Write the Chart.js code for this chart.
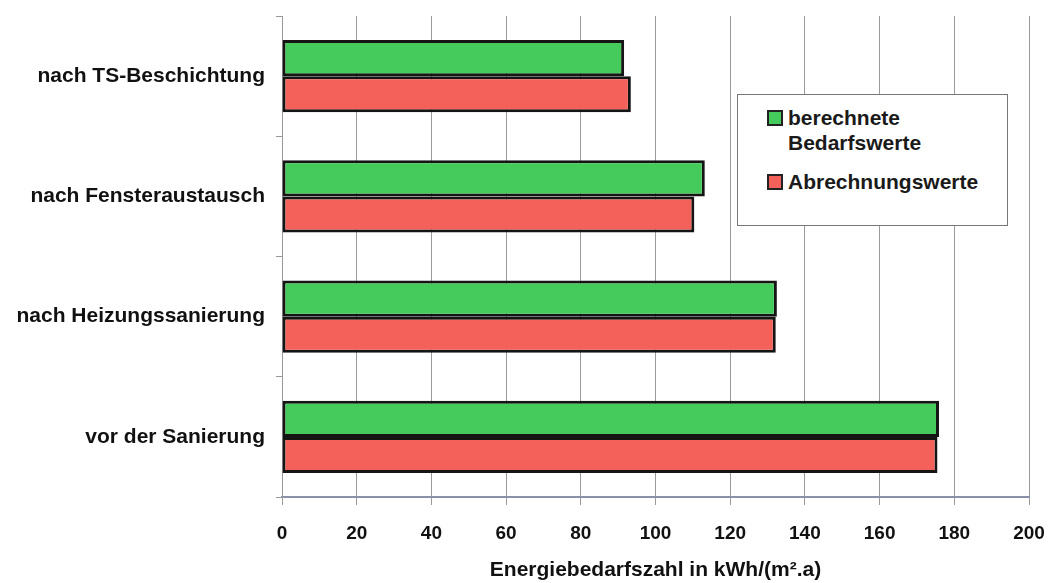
<!DOCTYPE html>
<html>
<head>
<meta charset="utf-8">
<script src="https://cdn.jsdelivr.net/npm/chart.js@4/dist/chart.umd.min.js"></script>
<style>
  html, body { margin: 0; padding: 0; background: #fff; }
  #wrap { position: relative; width: 1051px; height: 583px; }
  #legendBox {
    position: absolute; left: 737px; top: 94px; width: 269px; height: 130px;
    border: 1px solid #777; background: #fff;
    font-family: "Liberation Sans", Arial, sans-serif; font-weight: bold; font-size: 21px; color: #1a1a1a;
  }
  .item { position: absolute; left: 29px; line-height: 25px; }
  .swatch { position: absolute; left: 0; top: 5px; width: 12px; height: 12px; border: 2px solid #222; }
  .item span.txt { display: block; padding-left: 21px; }
</style>
</head>
<body>
<div id="wrap">
  <canvas id="chart" width="1051" height="583"></canvas>
  <div id="legendBox"></div>
</div>
<script>
const categories = ['nach TS-Beschichtung', 'nach Fensteraustausch', 'nach Heizungssanierung', 'vor der Sanierung'];
const berechnet = [91.6, 113.2, 132.5, 175.9];
const abrechnung = [93.4, 110.4, 132.2, 175.5];
const seriesNames = [['berechnete', 'Bedarfswerte'], ['Abrechnungswerte']];
const xTicks = [0, 20, 40, 60, 80, 100, 120, 140, 160, 180, 200];

const green = '#45cb5c';
const red = '#f4615a';
const font = "'Liberation Sans', Arial, sans-serif";

// legend as real text, placed like the boxed legend in the scan
const legendBox = document.getElementById('legendBox');
const legendTops = [10, 74];
[green, red].forEach((col, i) => {
  const item = document.createElement('div');
  item.className = 'item';
  item.style.top = legendTops[i] + 'px';
  item.innerHTML = `<div class="swatch" style="background:${col}"></div><span class="txt">${seriesNames[i].join('<br>')}</span>`;
  legendBox.appendChild(item);
});

new Chart(document.getElementById('chart'), {
  type: 'bar',
  data: {
    labels: categories,
    datasets: [
      {
        label: seriesNames[0].join(' '),
        data: berechnet,
        backgroundColor: green,
        borderColor: '#151515',
        borderWidth: 3,
        borderSkipped: false,
        categoryPercentage: 0.6,
        barPercentage: 1
      },
      {
        label: seriesNames[1].join(' '),
        data: abrechnung,
        backgroundColor: red,
        borderColor: '#151515',
        borderWidth: 3,
        borderSkipped: false,
        categoryPercentage: 0.6,
        barPercentage: 1
      }
    ]
  },
  options: {
    indexAxis: 'y',
    responsive: false,
    animation: false,
    layout: { padding: { top: 16, right: 22, left: 0, bottom: 0 } },
    plugins: {
      legend: { display: false },
      tooltip: { enabled: false }
    },
    scales: {
      x: {
        min: 0,
        max: 200,
        afterBuildTicks: scale => { scale.ticks = xTicks.map(v => ({ value: v })); },
        afterFit: scale => {
          scale.height = 86;
          scale.paddingLeft = 0;
          scale.paddingRight = 0;
        },
        grid: { color: '#9a9a9a', lineWidth: 1, tickLength: 8 },
        border: { color: '#8a90a8', width: 2 },
        ticks: {
          color: '#111',
          padding: 17,
          font: { family: font, weight: 'bold', size: 19 }
        },
        title: {
          display: true,
          text: 'Energiebedarfszahl in kWh/(m².a)',
          color: '#111',
          padding: { top: 0, bottom: 0 },
          font: { family: font, weight: 'bold', size: 21 }
        }
      },
      y: {
        afterFit: scale => {
          scale.width = 282;
          scale.paddingTop = 0;
          scale.paddingBottom = 0;
        },
        grid: { drawOnChartArea: false, offset: true, color: '#999', tickLength: 6 },
        border: { color: '#999', width: 1 },
        ticks: {
          color: '#111',
          padding: 11,
          font: { family: font, weight: 'bold', size: 21 }
        }
      }
    }
  }
});
</script>
</body>
</html>
